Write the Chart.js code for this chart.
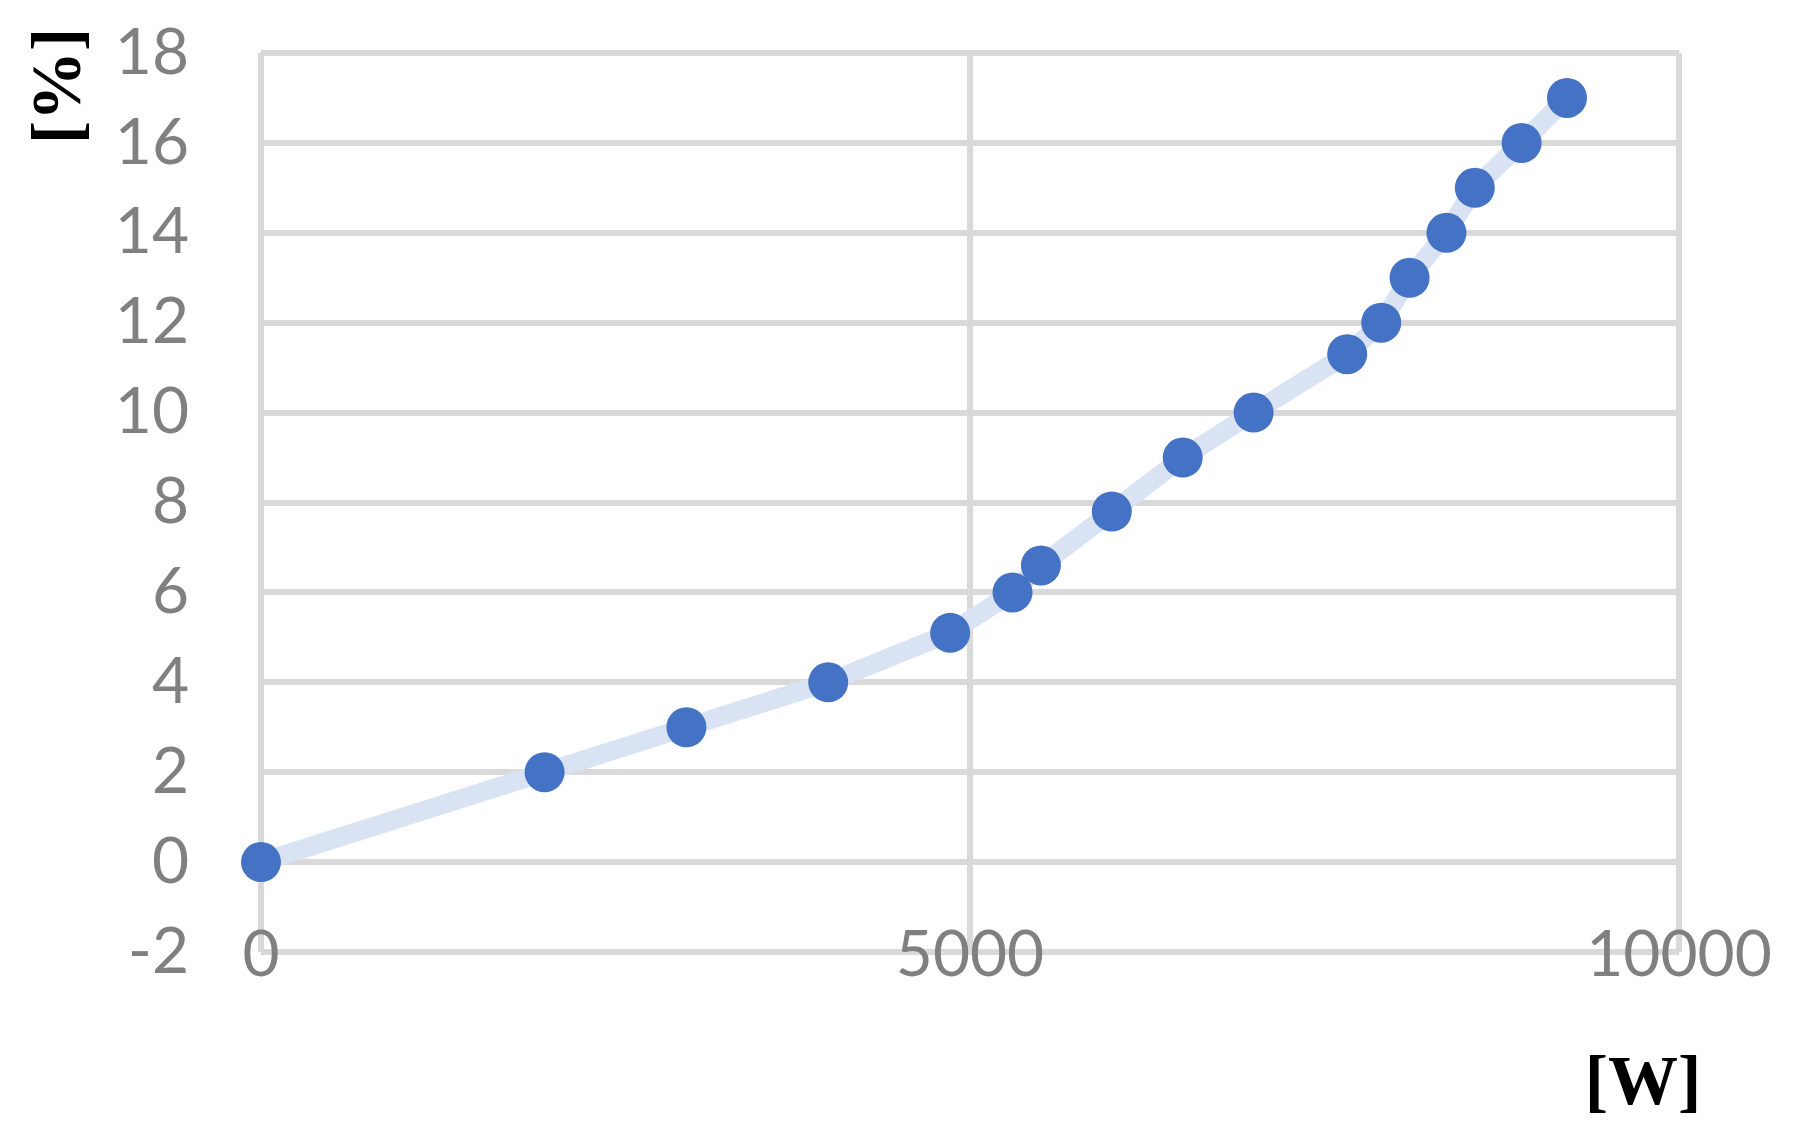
<!DOCTYPE html>
<html>
<head>
<meta charset="utf-8">
<script src="https://cdn.jsdelivr.net/npm/chart.js@4"></script>
<style>
  body { margin: 0; background: #fff; }
  #wrap { width: 1794px; height: 1139px; }
</style>
</head>
<body>
<div id="wrap"><canvas id="chart" width="1794" height="1139"></canvas></div>
<script>
/* Data */
const power = [0, 2000, 3000, 4000, 4860, 5300, 5500, 6000, 6500, 7000, 7660, 7900, 8100, 8360, 8560, 8890, 9210];
const percent = [0, 2, 3, 4, 5.1, 6, 6.6, 7.8, 9, 10, 11.3, 12, 13, 14, 15, 16, 17];
const xTitle = '[W]';
const yTitle = '[%]';

const points = power.map((p, i) => ({ x: p, y: percent[i] }));

/* Axis titles */
const titles = {
  id: 'titles',
  afterDraw(chart) {
    const ctx = chart.ctx;
    ctx.save();
    ctx.fillStyle = '#000';
    ctx.font = 'bold 70px "Liberation Serif"';
    ctx.textAlign = 'center';
    ctx.textBaseline = 'alphabetic';
    ctx.fillText(xTitle, 1643, 1104);
    ctx.translate(80, 86);
    ctx.rotate(-Math.PI / 2);
    ctx.fillText(yTitle, 0, 0);
    ctx.restore();
  }
};

const tickFont = { family: 'Lato', size: 64, lineHeight: 1.2 };

new Chart(document.getElementById('chart'), {
  type: 'scatter',
  data: {
    datasets: [{
      data: points,
      showLine: true,
      borderColor: '#dae3f3',
      borderWidth: 19,
      backgroundColor: '#4472c4',
      pointRadius: 20,
      pointBorderWidth: 0,
      pointHoverRadius: 20,
      clip: false
    }]
  },
  options: {
    responsive: false,
    animation: false,
    layout: { autoPadding: false, padding: { top: 53, right: 115, left: 0, bottom: 0 } },
    plugins: { legend: { display: false }, tooltip: { enabled: false } },
    scales: {
      x: {
        type: 'linear',
        min: 0, max: 10000,
        ticks: { stepSize: 5000, color: '#808080', font: tickFont, mirror: true, padding: -42, maxRotation: 0,
                 callback: v => String(v) },
        grid: { color: '#d9d9d9', lineWidth: 6, drawTicks: false },
        border: { display: false },
        afterFit(scale) {
          scale.height = 187;
          scale.paddingLeft = 0; scale.paddingRight = 0;
        }
      },
      y: {
        min: -2, max: 18,
        ticks: { stepSize: 2, color: '#808080', font: tickFont, padding: 72 },
        grid: { color: '#d9d9d9', lineWidth: 6, drawTicks: false },
        border: { display: false },
        afterFit(scale) {
          scale.width = 261;
          scale.paddingTop = 0; scale.paddingBottom = 0;
        }
      }
    }
  },
  plugins: [titles]
});
</script>
</body>
</html>
